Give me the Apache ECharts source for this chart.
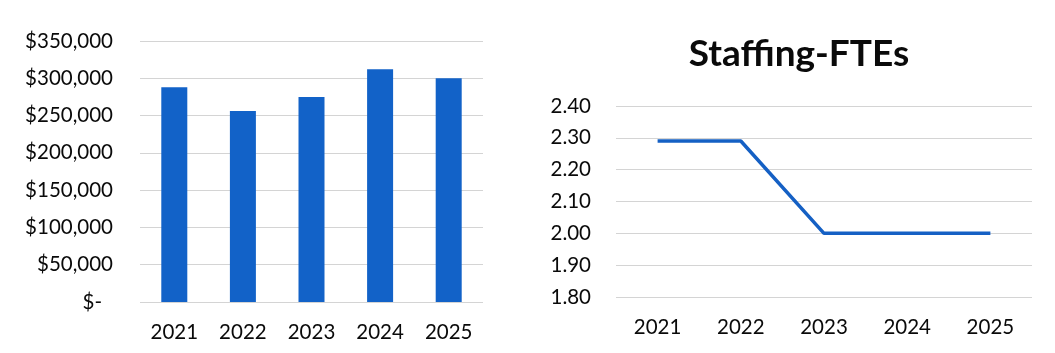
<!DOCTYPE html>
<html>
<head>
<meta charset="utf-8">
<script src="https://cdn.jsdelivr.net/npm/echarts@6/dist/echarts.min.js"></script>
<style>
  html, body { margin: 0; padding: 0; background: #fff; }
  #chart { width: 1055px; height: 353px; }
</style>
</head>
<body>
<div id="chart"></div>
<script>
// Fiscal years shown on both panels
const years = ['2021', '2022', '2023', '2024', '2025'];
// Annual cost in dollars (left panel)
const costs = [288000, 256000, 275000, 312000, 300000];
// Staffing full-time equivalents (right panel)
const ftes = [2.29, 2.29, 2.00, 2.00, 2.00];
const fteTitle = 'Staffing-FTEs';

const FONT = 'Lato';
const BLUE = '#1262c8';
const GRID = '#d4d4d4';
const INK = '#0a0a0a';

function money(v) {
  if (v === 0) return '{dash|$-}';
  return '$' + v.toLocaleString('en-US');
}

const chart = echarts.init(document.getElementById('chart'), null, { renderer: 'canvas' });
chart.setOption({
  backgroundColor: '#ffffff',
  animation: false,
  textStyle: { fontFamily: FONT },
  title: {
    text: fteTitle,
    left: 794,
    top: 31,
    textAlign: 'center',
    textStyle: { fontFamily: FONT, fontWeight: 'bold', fontSize: 37, color: INK }
  },
  grid: [
    { left: 140, right: 572, top: 41, bottom: 51 },
    { left: 616, right: 23, top: 106, bottom: 56 }
  ],
  xAxis: [
    {
      type: 'category', gridIndex: 0, data: years,
      axisLine: { show: false }, axisTick: { show: false },
      axisLabel: { color: INK, fontSize: 20.5, fontFamily: FONT, margin: 20 }
    },
    {
      type: 'category', gridIndex: 1, data: years,
      axisLine: { show: false }, axisTick: { show: false },
      axisLabel: { color: INK, fontSize: 20.5, fontFamily: FONT, margin: 20 }
    }
  ],
  yAxis: [
    {
      type: 'value', gridIndex: 0, min: 0, max: 350000, interval: 50000,
      axisLine: { show: false }, axisTick: { show: false },
      splitLine: { show: true, lineStyle: { color: GRID, width: 1 } },
      axisLabel: {
        color: INK, fontSize: 20.5, fontFamily: FONT, margin: 27,
        formatter: money,
        rich: { dash: { fontSize: 20.5, fontFamily: FONT, color: INK, padding: [0, 11, 0, 0] } }
      }
    },
    {
      type: 'value', gridIndex: 1, min: 1.8, max: 2.4, interval: 0.1,
      axisLine: { show: false }, axisTick: { show: false },
      splitLine: { show: true, lineStyle: { color: GRID, width: 1 } },
      axisLabel: {
        color: INK, fontSize: 20.5, fontFamily: FONT, margin: 25,
        formatter: v => v.toFixed(2)
      }
    }
  ],
  series: [
    {
      type: 'bar', xAxisIndex: 0, yAxisIndex: 0, data: costs,
      barWidth: 26,
      itemStyle: { color: BLUE }
    },
    {
      type: 'line', xAxisIndex: 1, yAxisIndex: 1, data: ftes,
      symbol: 'none',
      lineStyle: { color: '#1560c4', width: 3.5 }
    }
  ]
});
</script>
</body>
</html>
